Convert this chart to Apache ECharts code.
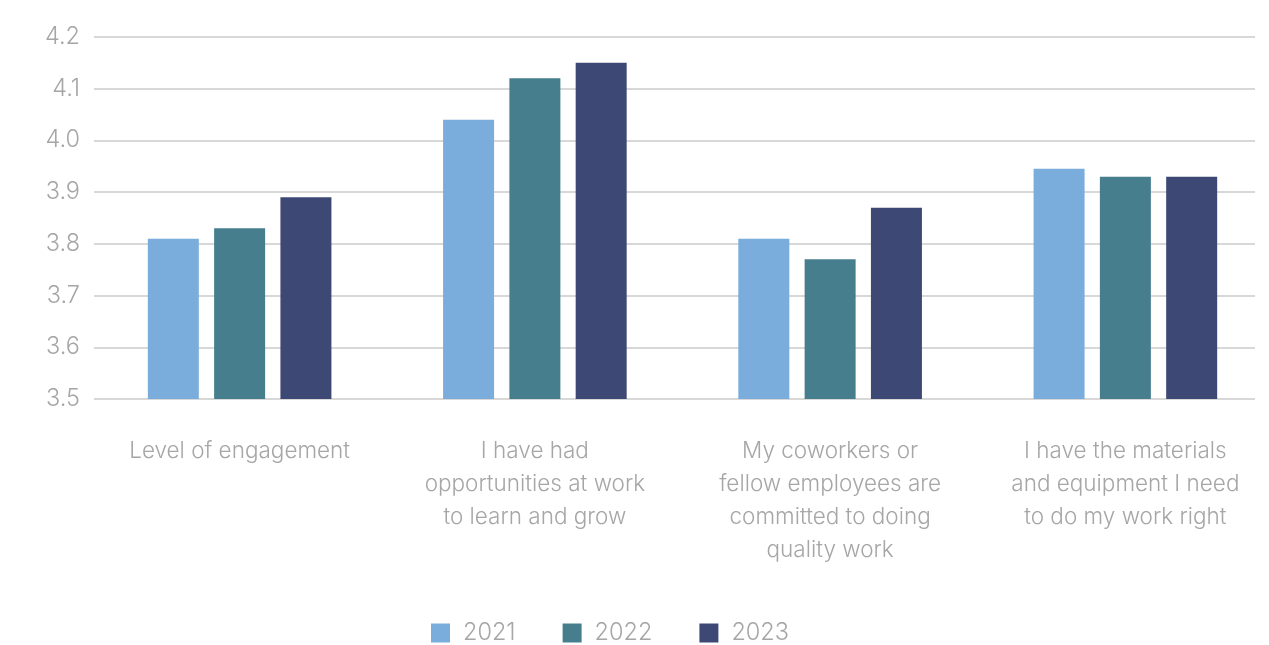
<!DOCTYPE html>
<html>
<head>
<meta charset="utf-8">
<script src="https://cdn.jsdelivr.net/npm/echarts@6/dist/echarts.min.js"></script>
<style>
  html, body { margin: 0; padding: 0; background: #ffffff; }
  #chart { width: 1269px; height: 645px; }
</style>
</head>
<body>
<div id="chart"></div>
<script>
// Survey item labels (one per bar group)
const categories = [
  'Level of engagement',
  'I have had\nopportunities at work\nto learn and grow',
  'My coworkers or\nfellow employees are\ncommitted to doing\nquality work',
  'I have the materials\nand equipment I need\nto do my work right'
];
const years = ['2021', '2022', '2023'];
const values2021 = [3.81, 4.04, 3.81, 3.945];
const values2022 = [3.83, 4.12, 3.77, 3.93];
const values2023 = [3.89, 4.15, 3.87, 3.93];
const colors = ['#7aaddb', '#467e8e', '#3d4874'];

const FONT = 'Inter, "Noto Sans", sans-serif';
const TEXT_COLOR = '#a6a6a6';
const Y_MIN = 3.5, Y_MAX = 4.2, Y_STEP = 0.1;

const chart = echarts.init(document.getElementById('chart'), null, { renderer: 'canvas' });

const seriesData = [values2021, values2022, values2023];

chart.setOption({
  animation: false,
  textStyle: { fontFamily: FONT },
  grid: [
    // bars and axis labels
    { left: 92, top: 37, width: 1181, height: 362, outerBoundsMode: 'none' },
    // horizontal gridlines only
    { left: 94, top: 37, width: 1161, height: 362, outerBoundsMode: 'none' }
  ],
  legend: {
    data: years,
    top: 616,
    left: 426,
    itemWidth: 19,
    itemHeight: 19,
    itemGap: 47,
    icon: 'rect',
    textStyle: { color: TEXT_COLOR, fontSize: 23.5, fontWeight: 300, fontFamily: FONT, padding: [0, 0, 0, 8] }
  },
  xAxis: [
    {
      type: 'category',
      gridIndex: 0,
      data: categories,
      axisLine: { show: false },
      axisTick: { show: false },
      axisLabel: {
        color: TEXT_COLOR,
        fontSize: 22.5,
        fontWeight: 300,
        lineHeight: 33,
        margin: 36,
        interval: 0,
        fontFamily: FONT
      }
    },
    {
      type: 'category',
      gridIndex: 1,
      data: categories,
      show: false
    }
  ],
  yAxis: [
    {
      type: 'value',
      gridIndex: 0,
      min: Y_MIN,
      max: Y_MAX,
      interval: Y_STEP,
      axisLine: { show: false },
      axisTick: { show: false },
      splitLine: { show: false },
      axisLabel: {
        color: TEXT_COLOR,
        fontSize: 23.5,
        fontWeight: 300,
        margin: 12,
        fontFamily: FONT,
        formatter: v => v.toFixed(1)
      }
    },
    {
      type: 'value',
      gridIndex: 1,
      min: Y_MIN,
      max: Y_MAX,
      interval: Y_STEP,
      axisLine: { show: false },
      axisTick: { show: false },
      axisLabel: { show: false },
      splitLine: { show: true, lineStyle: { color: '#cbcbcb', width: 1.5 } }
    }
  ],
  series: [
    ...years.map((y, i) => ({
      name: y,
      type: 'bar',
      xAxisIndex: 0,
      yAxisIndex: 0,
      data: seriesData[i],
      barWidth: 51,
      barGap: '30%',
      itemStyle: { color: colors[i] },
      z: 3
    })),
    {
      type: 'bar',
      xAxisIndex: 1,
      yAxisIndex: 1,
      data: [],
      silent: true
    }
  ]
});
</script>
</body>
</html>
